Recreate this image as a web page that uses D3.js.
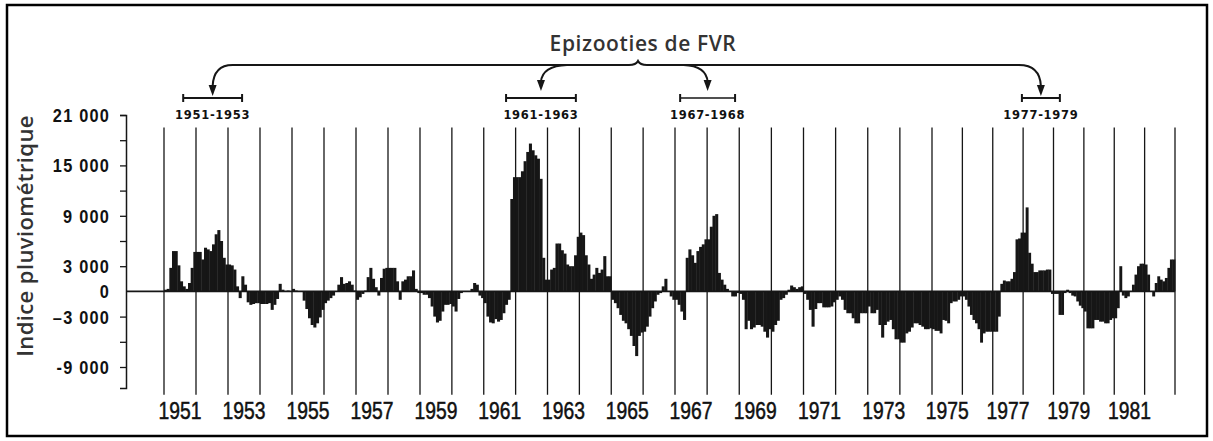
<!DOCTYPE html>
<html><head><meta charset="utf-8">
<script src="https://cdn.jsdelivr.net/npm/d3@7"></script>
<style>
html,body{margin:0;padding:0;background:#fff;}
svg{display:block;}
</style></head>
<body>
<svg id="chart" width="1213" height="441"></svg>
<script>
// ---------- DATA ----------
const startYear = 1951;
const yearBoundaries = d3.range(1951, 1984);
const yearLabels = [1951,1953,1955,1957,1959,1961,1963,1965,1967,1969,1971,1973,1975,1977,1979,1981];
const yTicks = [21000,18000,15000,12000,9000,6000,3000,0,-3000,-6000,-9000];
const yTickLabels = ["21 000","","15 000","","9 000","","3 000","0","\u20133 000","","-9 000"];
const titleText = "Epizooties de FVR";
const yTitle = "Indice pluviométrique";
const epiLabels = ["1951-1953","1961-1963","1967-1968","1977-1979"];
const epiStart = [1951.6, 1961.7, 1967.16, 1977.96];
const epiEnd   = [1953.44, 1963.89, 1968.87, 1979.21];
// monthly rainfall index, Jan 1951 .. Dec 1982
const rainIndex = [
  200, 300, 2800, 4800, 4800, 3100, 1200, 600, 300, 1000, 2800, 4700,          // 1951
  4700, 4700, 3800, 5200, 5000, 4800, 5600, 6800, 7300, 6000, 4000, 3200,      // 1952
  3200, 3100, 2600, 600, -800, 1800, 800, -1300, -1600, -1500, -1400, -1400,   // 1953
  -1500, -1500, -1500, -1400, -2200, -1600, -900, 900, 200, 0, 100, 0,         // 1954
  300, 100, 0, 0, -1100, -2100, -3200, -4000, -4300, -3800, -3100, -2200,      // 1955
  -1400, -1100, -800, -500, 0, 800, 1700, 900, 1000, 1200, 800, 100,           // 1956
  -1000, -700, -300, 100, 1700, 2800, 1500, 500, -500, 1600, 2700, 2800,       // 1957
  2800, 2800, 2800, 1200, -1000, 1200, 1400, 1800, 1800, 2500, 300, -200,      // 1958
  -200, -400, -400, -800, -1800, -3000, -3700, -3500, -2400, -1600, -1600, -1500, // 1959
  -1800, -2400, -900, -200, 0, 0, 0, 300, 1000, 800, -500, -800,               // 1960
  -1400, -3000, -3700, -3800, -3300, -3600, -3400, -2600, -1600, -1000, 11000, 13600, // 1961
  13600, 13600, 14300, 15500, 16600, 17600, 16800, 16200, 15800, 13400, 4000, 1400,   // 1962
  1400, 2600, 2800, 5700, 5700, 4900, 4500, 3200, 3000, 3000, 4300, 6500,      // 1963
  7000, 6700, 4300, 3200, 1500, 2000, 2800, 2200, 2600, 4200, 1800, 1800,      // 1964
  -1000, -1400, -2000, -2800, -3500, -3800, -4500, -5300, -6500, -7700, -5300, -4900, // 1965
  -4800, -4200, -3000, -2000, -1200, -400, -200, 600, 1500, 0, -600, -1000,    // 1966
  -1000, -1600, -2400, -3400, 4000, 5000, 4300, 3400, 4800, 5300, 5600, 6200,  // 1967
  6200, 7700, 9000, 9200, 2200, 1400, 800, 300, 0, -600, -600, -200,           // 1968
  -300, -1000, -4500, -3500, -4500, -4300, -4000, -4000, -4200, -4800, -5500, -4500, // 1969
  -4800, -4000, -3500, -1000, -800, -400, 200, 700, 500, 300, 500, 600,        // 1970
  -300, -1000, -2200, -4200, -2100, -1400, -1400, -1900, -1900, -1900, -1800, -1300, // 1971
  -1000, -600, -1000, -2200, -2600, -2600, -3200, -3800, -3800, -2600, -2600, -2600, // 1972
  -1800, -2600, -2600, -2200, -4000, -5500, -4000, -3600, -3400, -4500, -5700, -5700, // 1973
  -6100, -6100, -5000, -4800, -4300, -3800, -3800, -4000, -4200, -4500, -4500, -4400, // 1974
  -4500, -4700, -4700, -5000, -3400, -3500, -3800, -1400, -1200, -1200, -1000, -600,  // 1975
  -600, -1000, -1800, -2800, -3400, -3800, -4500, -6100, -5000, -4800, -4800, -4800,  // 1976
  -4800, -4800, -3000, 900, 1300, 1200, 1200, 1500, 2300, 6200, 6300, 7000,    // 1977
  7000, 10000, 4600, 3300, 2300, 2300, 2500, 2500, 2500, 2600, 2600, -300,     // 1978
  -300, -300, -2800, -2800, -200, 200, -200, -500, -600, -1200, -1700, -2000,  // 1979
  -2400, -4400, -4400, -4400, -3400, -3400, -3600, -3600, -3800, -3800, -3400, -3200, // 1980
  -3200, -2000, 3000, -500, -800, -600, 0, 800, 2000, 3000, 3300, 3300,        // 1981
  3200, 2000, 0, -600, 1000, 1800, 1400, 1200, 1600, 2800, 3800, 3800         // 1982
];

// ---------- LAYOUT ----------
const svg = d3.select("#chart");
const ink = "#161616";
const x = d3.scaleLinear().domain([1951,1959,1967,1975,1983]).range([164,420,675,932,1175]);
const y = d3.scaleLinear().domain([-11500, 21000]).range([388, 115]);
const axisX = 126;
const condFont = "'Liberation Sans',Arial,sans-serif";

// frame
svg.append("rect").attr("x",7).attr("y",5).attr("width",1200).attr("height",431)
  .attr("fill","none").attr("stroke","#000").attr("stroke-width",2.5);

// year lines
svg.append("g").selectAll("line").data(yearBoundaries).join("line")
  .attr("x1", d=>x(d)).attr("x2", d=>x(d))
  .attr("y1", y(19500)).attr("y2", y(-12300))
  .attr("stroke", ink).attr("stroke-width", 1.3);

// bars
const bars = rainIndex.map((v,i)=>({t0: startYear + i/12, t1: startYear + (i+1)/12, v}));
svg.append("g").selectAll("rect").data(bars).join("rect")
  .attr("x", d=>x(d.t0))
  .attr("width", d=>x(d.t1)-x(d.t0)+0.4)
  .attr("y", d=>Math.min(y(d.v), y(0)))
  .attr("height", d=>Math.abs(y(d.v)-y(0)))
  .attr("fill", ink);

// zero line
svg.append("line").attr("x1",axisX).attr("x2",x(1983)).attr("y1",y(0)).attr("y2",y(0))
  .attr("stroke",ink).attr("stroke-width",1.6);

// y axis
const yAxis = d3.axisLeft(y).tickValues(yTicks).tickSizeOuter(0).tickSize(6)
  .tickFormat((d,i)=>yTickLabels[i]).tickPadding(10);
const ga = svg.append("g").attr("transform",`translate(${axisX},0)`).call(yAxis);
ga.select(".domain").attr("stroke",ink).attr("stroke-width",1.5);
ga.selectAll(".tick line").attr("stroke",ink).attr("stroke-width",1.3)
  .attr("display", d=> d===0 ? "none" : null);
ga.selectAll(".tick text").attr("fill","#111").attr("x",0).attr("dy",null)
  .attr("transform","translate(-16,6.5) scale(0.86,1)")
  .style("font-family",condFont).style("font-weight","bold")
  .style("font-size","19px").style("letter-spacing","1.4px");

// y title
svg.append("text").attr("transform","translate(33,236) rotate(-90)")
  .attr("text-anchor","middle").text(yTitle)
  .style("font-family","'Open Sans',sans-serif").style("font-weight",600)
  .style("font-size","22px").style("letter-spacing","0.4px").attr("fill","#333");

// year labels
svg.append("g").selectAll("text").data(yearLabels).join("text")
  .attr("transform", d=>`translate(${(x(d)+x(d+1))/2},419) scale(0.84,1)`)
  .attr("text-anchor","middle").text(d=>d)
  .style("font-family",condFont).style("font-weight","normal")
  .style("font-size","23px").style("stroke","#111").style("stroke-width","0.5px")
  .attr("fill","#111");

// title
svg.append("text").attr("x",643).attr("y",51).attr("text-anchor","middle").text(titleText)
  .style("font-family","'Open Sans',sans-serif").style("font-weight",600)
  .style("font-size","21px").style("letter-spacing","0.6px").attr("fill","#333");

// epizootic intervals
const tips = epiStart.map((s,i)=>x((s+epiEnd[i])/2));
const gi = svg.append("g");
epiLabels.forEach((lab,i)=>{
  const a = x(epiStart[i]), b = x(epiEnd[i]);
  const sw = i===2 ? 1.4 : 2.2;
  gi.append("line").attr("x1",a).attr("x2",b).attr("y1",98).attr("y2",98).attr("stroke",ink).attr("stroke-width",sw);
  gi.append("line").attr("x1",a).attr("x2",a).attr("y1",94).attr("y2",102).attr("stroke",ink).attr("stroke-width",2);
  gi.append("line").attr("x1",b).attr("x2",b).attr("y1",94).attr("y2",102).attr("stroke",ink).attr("stroke-width",2);
  gi.append("text").attr("x",(a+b)/2).attr("y",119).attr("text-anchor","middle").text(lab)
    .style("font-family","'DejaVu Sans',sans-serif").style("font-weight","bold")
    .style("font-size","11.5px").style("letter-spacing","0.7px").attr("fill","#111");
});

// brace + arrows
const ly = 65, notch = 638;
const [t0,t1,t2,t3] = tips;
const p = d3.path();
p.moveTo(t0, 86);
p.quadraticCurveTo(t0+1, ly, t0+20, ly);
p.lineTo(notch-9, ly);
p.quadraticCurveTo(notch-2, ly, notch, ly-4);
p.quadraticCurveTo(notch+2, ly, notch+9, ly);
p.lineTo(t3-22, ly);
p.quadraticCurveTo(t3-1, ly, t3, 86);
p.moveTo(t1+26, ly);
p.quadraticCurveTo(t1+1, ly+1, t1, 82);
p.moveTo(t2-24, ly);
p.quadraticCurveTo(t2-1, ly+1, t2, 82);
svg.append("path").attr("d",p.toString()).attr("fill","none").attr("stroke",ink).attr("stroke-width",2);
const heads = [[t0,96],[t1,91],[t2,91],[t3,96]];
svg.append("g").selectAll("path").data(heads).join("path")
  .attr("d", d=>`M${d[0]-4},${d[1]-11} L${d[0]+4},${d[1]-11} L${d[0]},${d[1]} Z`)
  .attr("fill",ink);
</script>
</body></html>
